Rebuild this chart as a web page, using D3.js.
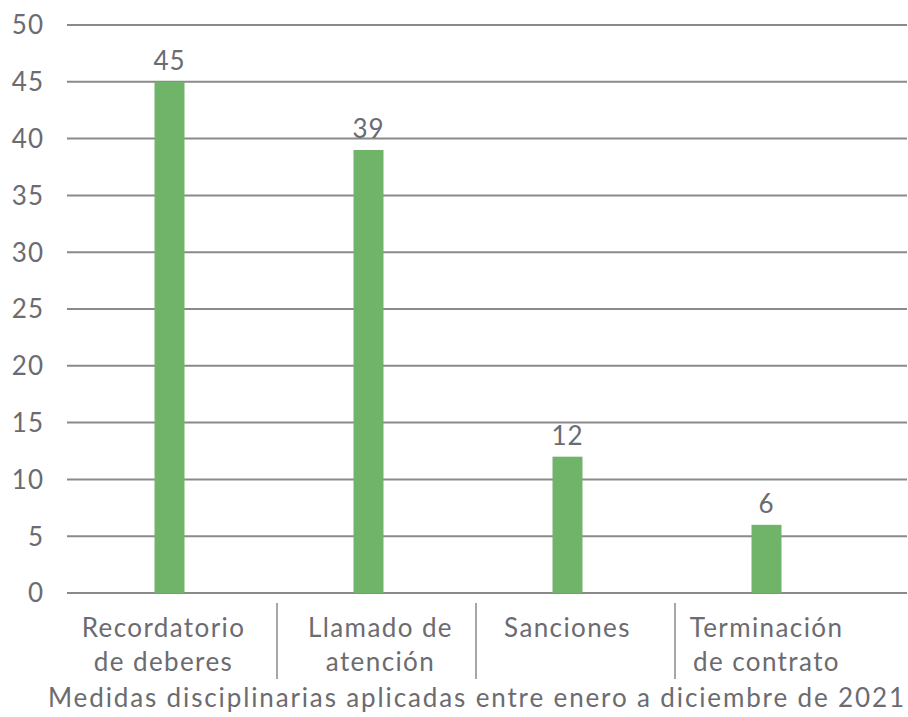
<!DOCTYPE html>
<html><head><meta charset="utf-8">
<script src="https://cdn.jsdelivr.net/npm/d3@7"></script>
<style>body{margin:0;background:#fff}svg{display:block}</style>
</head><body>
<svg id="chart" width="908" height="717"></svg>
<script>
const categories = [["Recordatorio","de deberes"],["Llamado de","atención"],["Sanciones"],["Terminación","de contrato"]];
const values = [45, 39, 12, 6];
const yTicks = [0,5,10,15,20,25,30,35,40,45,50];
const axisTitle = "Medidas disciplinarias aplicadas entre enero a diciembre de 2021";

const svg = d3.select("#chart");
const font = "Lato, 'Open Sans', sans-serif";
const textColor = "#6b6b70";
const gridColor = "#8a8a8a";
const keys = categories.map((c,i)=>i);

const y = d3.scaleLinear().domain([0,50]).range([593,25]);
const x = d3.scaleBand().domain(keys).range([70,866]).paddingInner(0).paddingOuter(0);
const barW = 30;

// gridlines
svg.append("g").selectAll("line").data(yTicks).join("line")
  .attr("x1",67).attr("x2",907)
  .attr("y1",d=>y(d)).attr("y2",d=>y(d))
  .attr("stroke",gridColor).attr("stroke-width",2);

// y labels
svg.append("g").selectAll("text").data(yTicks).join("text")
  .attr("x",44).attr("y",d=>y(d)).attr("dy","0.36em")
  .attr("text-anchor","end").attr("font-family",font).attr("font-size",26)
  .attr("letter-spacing",1).attr("fill",textColor).text(d=>d);

// bars
svg.append("g").selectAll("rect").data(values).join("rect")
  .attr("x",(d,i)=>x(i)+x.bandwidth()/2-barW/2)
  .attr("width",barW)
  .attr("y",d=>y(d)).attr("height",d=>y(0)-y(d))
  .attr("fill","#70b46a");

// data labels
svg.append("g").selectAll("text").data(values).join("text")
  .attr("x",(d,i)=>x(i)+x.bandwidth()/2)
  .attr("y",d=>y(d)-12)
  .attr("text-anchor","middle").attr("font-family",font).attr("font-size",26)
  .attr("letter-spacing",1).attr("fill",textColor).text(d=>d);

// separators
svg.append("g").selectAll("line").data(keys.slice(1)).join("line")
  .attr("x1",d=>x(d)+8).attr("x2",d=>x(d)+8).attr("y1",603).attr("y2",679)
  .attr("stroke",gridColor).attr("stroke-width",1.5);

// category labels
const cl = svg.append("g").selectAll("text").data(categories).join("text")
  .attr("text-anchor","middle").attr("font-family",font).attr("font-size",26)
  .attr("letter-spacing",1.4).attr("fill",textColor);
cl.selectAll("tspan").data((d,i)=>d.map(t=>({t,i}))).join("tspan")
  .attr("x",d=>x(d.i)+x.bandwidth()/2+ [-6,12,0,0][d.i])
  .attr("y",(d,j)=>637+j*34)
  .text(d=>d.t);

// axis title
svg.append("text").attr("x",476).attr("y",707).attr("text-anchor","middle")
  .attr("font-family",font).attr("font-size",26).attr("fill",textColor)
  .attr("textLength",856).attr("lengthAdjust","spacing").text(axisTitle);
</script>
</body></html>
